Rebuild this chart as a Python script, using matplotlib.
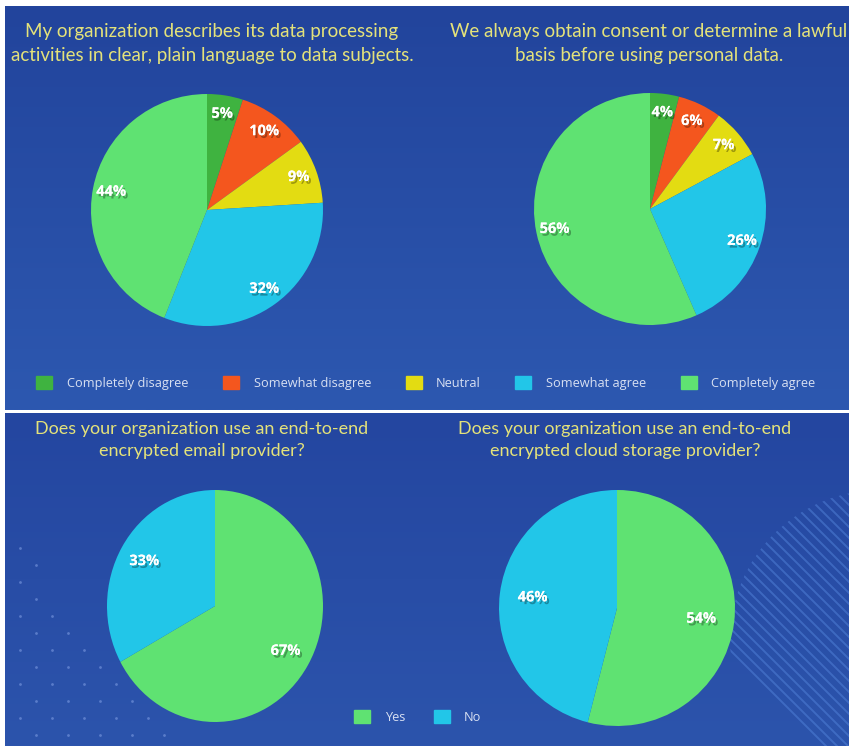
import numpy as np
import matplotlib.pyplot as plt
import matplotlib.patheffects as pe
from matplotlib.patches import Patch, Circle
from matplotlib.collections import LineCollection

W, H = 849, 746

# -----------------------
# Data
# -----------------------
likert_labels = ['Completely disagree', 'Somewhat disagree', 'Neutral',
                 'Somewhat agree', 'Completely agree']
likert_colors = ['#3fb340', '#f4561e', '#e3dc12', '#22c6e8', '#5fe272']
plain_language = [5, 10, 9, 32, 44]
lawful_basis = [4, 6, 7, 26, 56]

yn_labels = ['Yes', 'No']
yn_colors = ['#5fe272', '#22c6e8']
e2e_email = [67, 33]
e2e_cloud = [54, 46]

title_plain = 'My organization describes its data processing\nactivities in clear, plain language to data subjects.'
title_lawful = 'We always obtain consent or determine a lawful\nbasis before using personal data.'
title_email = 'Does your organization use an end-to-end\nencrypted email provider?'
title_cloud = 'Does your organization use an end-to-end\nencrypted cloud storage provider?'

TITLE_COLOR = '#e4e27a'
LEGEND_TEXT = '#d8e0f2'


# -----------------------
# Helpers
# -----------------------
def px_axes(fig, x0, y0, w, h, **kw):
    """Axes from a pixel box measured from the top-left corner."""
    return fig.add_axes([x0 / W, 1 - (y0 + h) / H, w / W, h / H], **kw)


def panel_gradient(top_rgb, bottom_rgb, n=200):
    t = np.linspace(0, 1, n)[:, None, None]
    top = np.array(top_rgb)[None, None, :] / 255
    bot = np.array(bottom_rgb)[None, None, :] / 255
    return top * (1 - t) + bot * t


def draw_pie(ax, values, colors, pctdist):
    total = sum(values)
    wedges, texts, autotexts = ax.pie(
        values, colors=colors, startangle=90, counterclock=False,
        autopct=lambda p: f'{p * total / 100:.0f}%', pctdistance=pctdist,
        wedgeprops=dict(linewidth=0),
        textprops=dict(color='white', fontsize=10.5, fontweight='bold',
                       family='Open Sans'))
    for t in autotexts:
        t.set_path_effects([pe.withSimplePatchShadow(offset=(1.5, -2),
                                                     shadow_rgbFace='black',
                                                     alpha=0.3),
                            pe.Normal()])
    ax.set_xlim(-1, 1)
    ax.set_ylim(-1, 1)
    ax.set_aspect('auto')
    ax.axis('off')


# -----------------------
# Figure
# -----------------------
fig = plt.figure(figsize=(W / 100, H / 100), dpi=100, facecolor='white')

# background panels
bg = fig.add_axes([0, 0, 1, 1], zorder=-5)
bg.set_xlim(0, W)
bg.set_ylim(H, 0)
bg.axis('off')
bg.imshow(panel_gradient((34, 68, 156), (45, 88, 176)),
          extent=(5, W, 410, 6), aspect='auto', zorder=0)
bg.imshow(panel_gradient((36, 70, 160), (44, 84, 172)),
          extent=(5, W, H, 413), aspect='auto', zorder=0)

# dotted decoration, bottom-left
dots_x, dots_y = [], []
for i, yy in enumerate(np.arange(548, 746, 17)):
    xs = np.arange(20 + (i % 2) * 16, 20 + (yy - 548) * 0.9 + 1, 32)
    dots_x.extend(xs)
    dots_y.extend([yy] * len(xs))
bg.scatter(dots_x, dots_y, s=4, color='#7b9ae0', alpha=0.6, lw=0, zorder=1)

# striped decoration, bottom-right
clip = Circle((880, 640), 150, transform=bg.transData)
segs = [[(x0, 480), (x0 + 300, 780)] for x0 in np.arange(560, 900, 11)]
lc = LineCollection(segs, colors='#4f7fd6', linewidths=1.4, alpha=0.55, zorder=1)
bg.add_collection(lc)
lc.set_clip_path(clip)

# titles
fig.text(212 / W, 1 - 43 / H, title_plain, ha='center', va='center',
         color=TITLE_COLOR, fontsize=13.5, family='Lato', linespacing=1.5)
fig.text(649 / W, 1 - 43 / H, title_lawful, ha='center', va='center',
         color=TITLE_COLOR, fontsize=13.5, family='Lato', linespacing=1.5)
fig.text(202 / W, 1 - 440 / H, title_email, ha='center', va='center',
         color=TITLE_COLOR, fontsize=13, family='Lato', linespacing=1.5)
fig.text(625 / W, 1 - 440 / H, title_cloud, ha='center', va='center',
         color=TITLE_COLOR, fontsize=13, family='Lato', linespacing=1.5)

# pies
ax1 = px_axes(fig, 91, 94, 232, 232)
draw_pie(ax1, plain_language, likert_colors, 0.84)
ax2 = px_axes(fig, 534, 93, 232, 232)
draw_pie(ax2, lawful_basis, likert_colors, 0.84)
ax3 = px_axes(fig, 107, 490, 216, 232)
draw_pie(ax3, e2e_email, yn_colors, 0.76)
ax4 = px_axes(fig, 499, 490, 236, 236)
draw_pie(ax4, e2e_cloud, yn_colors, 0.72)

# legends
leg_kw = dict(loc='center', frameon=False, labelcolor=LEGEND_TEXT,
              handlelength=1.25, handleheight=1.25, handletextpad=1.15,
              prop=dict(family='Open Sans', size=9.2))
fig.legend(handles=[Patch(color=c, label=l) for c, l in zip(likert_colors, likert_labels)],
           bbox_to_anchor=(426 / W, 1 - 383 / H), ncol=5, columnspacing=2.7, **leg_kw)
fig.legend(handles=[Patch(color=c, label=l) for c, l in zip(yn_colors, yn_labels)],
           bbox_to_anchor=(418 / W, 1 - 717 / H), ncol=2, columnspacing=2.2, **leg_kw)

fig.savefig('out.png', dpi=100, facecolor=fig.get_facecolor())
